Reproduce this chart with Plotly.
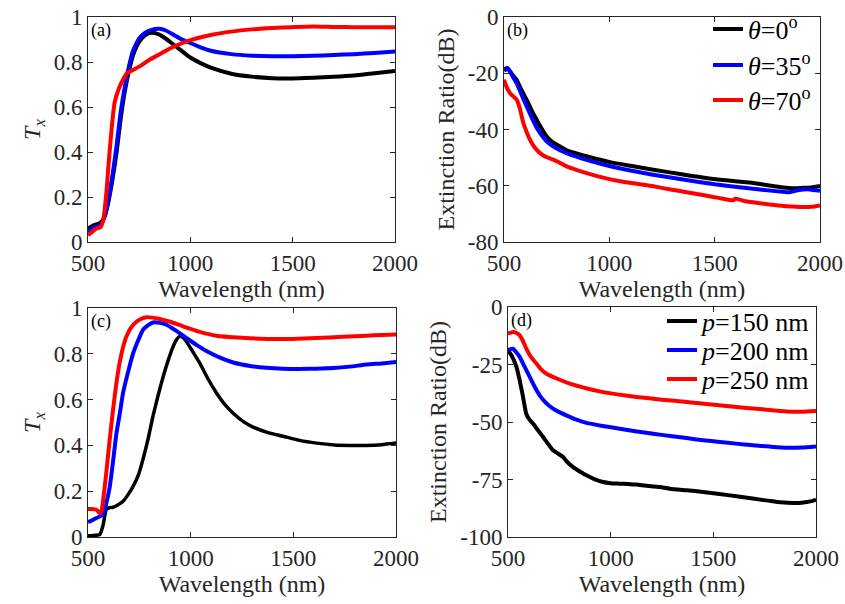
import plotly.graph_objects as go

W, H = 845, 604
FONT = "Liberation Serif"
AXC = "#262626"

# ---------------- Panel (a): Tx vs wavelength, theta ----------------
a_x_k = [500, 530, 560, 580, 600, 620, 640, 660, 680, 700, 720, 750, 780, 810, 840, 870, 900, 950, 1000,
         1050, 1100, 1200, 1300, 1400, 1500, 1600, 1700, 1800, 1900, 2000]
a_y_k = [0.06, 0.075, 0.085, 0.11, 0.18, 0.28, 0.40, 0.55, 0.67, 0.76, 0.83, 0.89, 0.92, 0.93, 0.925, 0.91,
         0.89, 0.855, 0.82, 0.795, 0.775, 0.748, 0.735, 0.728, 0.727, 0.73, 0.734, 0.74, 0.75, 0.76]

a_x_b = [500, 530, 560, 580, 600, 620, 640, 660, 680, 700, 720, 750, 780, 810, 850, 880, 920, 960, 1000,
         1050, 1100, 1200, 1300, 1400, 1500, 1600, 1700, 1800, 1900, 2000]
a_y_b = [0.045, 0.065, 0.075, 0.11, 0.19, 0.30, 0.43, 0.58, 0.69, 0.78, 0.85, 0.905, 0.93, 0.943, 0.948,
         0.94, 0.92, 0.90, 0.885, 0.865, 0.85, 0.835, 0.828, 0.826, 0.826, 0.828, 0.831, 0.835, 0.84, 0.847]

a_x_r = [500, 520, 540, 560, 575, 590, 600, 615, 630, 650, 670, 690, 720, 760, 800, 850, 900, 950, 1000,
         1100, 1200, 1300, 1400, 1500, 1600, 1700, 1800, 1900, 2000]
a_y_r = [0.03, 0.045, 0.06, 0.065, 0.10, 0.22, 0.34, 0.50, 0.62, 0.68, 0.72, 0.75, 0.765, 0.785, 0.81,
         0.835, 0.86, 0.88, 0.897, 0.92, 0.935, 0.945, 0.951, 0.955, 0.958, 0.956, 0.955, 0.955, 0.955]

# ---------------- Panel (b): extinction ratio vs wavelength, theta ----------------
b_x_k = [500, 516, 540, 560, 580, 607, 630, 655, 680, 702, 730, 766, 800, 892, 1003, 1100, 1209, 1350,
         1494, 1600, 1683, 1760, 1826, 1870, 1921, 1960, 2000]
b_y_k = [-18.7, -18.1, -20.5, -22.3, -25.5, -29.4, -33.0, -36.5, -39.8, -42.4, -44.5, -46.0, -47.5, -49.5,
         -51.6, -52.9, -54.3, -56.0, -57.6, -58.4, -59.0, -59.9, -60.6, -60.9, -60.7, -60.6, -60.1]

b_x_b = [500, 520, 540, 560, 580, 600, 630, 660, 700, 740, 800, 900, 1000, 1100, 1200, 1350, 1500, 1650,
         1800, 1850, 1900, 1950, 2000]
b_y_b = [-19.0, -18.5, -21.0, -23.5, -27.0, -30.5, -35.5, -40.0, -44.0, -46.3, -48.5, -51.0, -53.0, -54.6,
         -56.0, -57.8, -59.5, -60.8, -62.0, -62.3, -61.5, -61.3, -61.8]

b_x_r = [500, 510, 528, 545, 560, 575, 592, 608, 623, 645, 671, 700, 734, 765, 797, 850, 892, 970, 1051,
         1130, 1209, 1290, 1367, 1450, 1525, 1589, 1597, 1640, 1683, 1760, 1842, 1921, 1960, 2000]
b_y_r = [-22.3, -24.5, -27.0, -28.3, -29.4, -32.5, -37.7, -41.0, -43.6, -46.3, -48.4, -49.8, -50.7, -51.8,
         -53.1, -54.5, -55.5, -57.1, -58.4, -59.3, -60.2, -61.3, -62.3, -63.4, -64.4, -65.2, -64.6, -65.4,
         -65.9, -66.7, -67.3, -67.6, -67.5, -67.0]

# ---------------- Panel (c): Tx vs wavelength, period ----------------
c_x_k = [500, 530, 557, 573, 589, 605, 622, 645, 671, 695, 719, 745, 768, 793, 817, 842, 866, 890, 914,
         930, 947, 962, 979, 1010, 1044, 1085, 1125, 1165, 1207, 1255, 1304, 1380, 1450, 1530, 1613, 1700,
         1775, 1850, 1930, 2000]
c_y_k = [0.006, 0.007, 0.01, 0.05, 0.12, 0.128, 0.13, 0.14, 0.156, 0.185, 0.22, 0.27, 0.34, 0.43, 0.53,
         0.62, 0.70, 0.77, 0.83, 0.86, 0.876, 0.872, 0.854, 0.81, 0.76, 0.69, 0.63, 0.58, 0.54, 0.505, 0.48,
         0.455, 0.44, 0.422, 0.41, 0.402, 0.40, 0.40, 0.403, 0.41]

c_x_b = [500, 541, 573, 590, 606, 622, 638, 655, 671, 695, 719, 745, 768, 793, 817, 850, 882, 930, 979,
         1030, 1077, 1140, 1207, 1290, 1370, 1450, 1532, 1613, 1694, 1775, 1857, 1930, 2000]
c_y_b = [0.064, 0.083, 0.097, 0.15, 0.22, 0.33, 0.45, 0.54, 0.63, 0.72, 0.80, 0.86, 0.905, 0.925, 0.937,
         0.935, 0.927, 0.90, 0.869, 0.838, 0.812, 0.784, 0.762, 0.747, 0.739, 0.735, 0.734, 0.735, 0.738,
         0.744, 0.753, 0.758, 0.764]

c_x_r = [500, 520, 541, 557, 565, 575, 589, 605, 622, 638, 654, 671, 687, 710, 736, 760, 784, 815, 849,
         900, 963, 1040, 1125, 1250, 1370, 1490, 1613, 1740, 1857, 1930, 2000]
c_y_r = [0.122, 0.122, 0.119, 0.105, 0.112, 0.17, 0.28, 0.42, 0.556, 0.67, 0.76, 0.83, 0.876, 0.915,
         0.94, 0.953, 0.96, 0.958, 0.952, 0.94, 0.92, 0.897, 0.879, 0.87, 0.865, 0.865, 0.869, 0.874, 0.879,
         0.882, 0.884]

# ---------------- Panel (d): extinction ratio vs wavelength, period ----------------
d_x_k = [500, 520, 541, 557, 573, 589, 605, 622, 645, 671, 695, 719, 745, 768, 790, 817, 850, 882, 920,
         963, 1000, 1044, 1085, 1125, 1165, 1207, 1240, 1288, 1370, 1450, 1530, 1613, 1700, 1775, 1830, 1889,
         1930, 1954, 1980, 2000]
d_y_k = [-18.8, -21.5, -26.0, -31.9, -39.0, -46.4, -49.0, -50.7, -53.5, -56.5, -59.5, -62.3, -63.8, -65.2,
         -67.5, -69.6, -71.5, -73.2, -74.8, -76.1, -76.6, -76.8, -77.0, -77.2, -77.6, -78.0, -78.3, -79.0,
         -79.7, -80.4, -81.3, -82.3, -83.4, -84.3, -84.9, -85.2, -85.1, -84.8, -84.4, -83.8]

d_x_b = [500, 524, 540, 557, 580, 606, 630, 654, 685, 719, 750, 784, 830, 882, 960, 1044, 1120, 1207,
         1290, 1370, 1450, 1532, 1610, 1694, 1775, 1857, 1930, 2000]
d_y_b = [-18.8, -18.1, -19.7, -21.7, -25.8, -30.4, -34.7, -38.4, -41.7, -44.2, -45.7, -47.1, -48.9, -50.4,
         -51.7, -52.9, -54.0, -55.1, -56.1, -57.0, -57.9, -58.7, -59.4, -60.1, -60.7, -61.2, -61.1, -60.6]

d_x_r = [500, 524, 540, 557, 573, 589, 610, 638, 660, 687, 740, 801, 880, 963, 1040, 1125, 1250, 1370,
         1490, 1613, 1740, 1857, 1930, 2000]
d_y_r = [-11.6, -10.9, -11.2, -12.3, -14.8, -18.1, -21.5, -24.6, -27.0, -29.0, -31.2, -33.3, -35.3, -37.0,
         -38.1, -39.1, -40.3, -41.3, -42.4, -43.5, -44.5, -45.4, -45.5, -45.2]

theta_names = ["<i>θ</i>=0<sup>o</sup>", "<i>θ</i>=35<sup>o</sup>", "<i>θ</i>=70<sup>o</sup>"]
period_names = ["<i>p</i>=150 nm", "<i>p</i>=200 nm", "<i>p</i>=250 nm"]
colors = ["#000000", "#0000ff", "#ff0000"]
x_ticks = [500, 1000, 1500, 2000]
tx_ticks = [0, 0.2, 0.4, 0.6, 0.8, 1]
er_b_ticks = [0, -20, -40, -60, -80]
er_b_text = ["0", "-20", "-40", "-60", "-80"]
er_d_ticks = [0, -25, -50, -75, -100]
er_d_text = ["0", "-25", "-50", "-75", "-100"]

fig = go.Figure()


def px_x(p):
    return p / W


def px_y(p):
    return 1 - p / H


# plot areas in pixel coordinates (left, right, top, bottom)
boxes = {
    "1": (88, 395, 17, 242),
    "2": (504, 820, 17, 242),
    "3": (88, 396, 308, 537),
    "4": (508, 816, 307, 537),
}


def add(xs, ys, color, n, name=None, legend=None, width=4):
    xa = "x" if n == "1" else "x" + n
    ya = "y" if n == "1" else "y" + n
    fig.add_trace(go.Scatter(
        x=xs, y=ys, mode="lines", line=dict(color=color, width=width, shape="spline", smoothing=0.5),
        xaxis=xa, yaxis=ya, name=name or "", showlegend=legend is not None,
        legend=legend or "legend"))


add(a_x_k, a_y_k, colors[0], "1")
add(a_x_b, a_y_b, colors[1], "1")
add(a_x_r, a_y_r, colors[2], "1")

add(b_x_k, b_y_k, colors[0], "2", theta_names[0], "legend")
add(b_x_b, b_y_b, colors[1], "2", theta_names[1], "legend2")
add(b_x_r, b_y_r, colors[2], "2", theta_names[2], "legend3")

add(c_x_k, c_y_k, colors[0], "3", width=3.5)
add(c_x_b, c_y_b, colors[1], "3")
add(c_x_r, c_y_r, colors[2], "3")

add(d_x_k, d_y_k, colors[0], "4", period_names[0], "legend4")
add(d_x_b, d_y_b, colors[1], "4", period_names[1], "legend5")
add(d_x_r, d_y_r, colors[2], "4", period_names[2], "legend6")

axis_common = dict(showgrid=False, zeroline=False, showline=True, linecolor=AXC, linewidth=1,
                   mirror="ticks", ticks="inside", ticklen=5, tickcolor=AXC, tickwidth=1,
                   automargin=False,
                   tickfont=dict(family=FONT, size=23, color=AXC))

layout = dict(
    width=W, height=H, margin=dict(l=0, r=0, t=0, b=0, autoexpand=False),
    paper_bgcolor="white", plot_bgcolor="white",
    font=dict(family=FONT, color=AXC),
)

ylab = {
    "1": ("<i>T</i><sub><i>x</i></sub>", [0, 1], tx_ticks, None),
    "2": ("Extinction Ratio(dB)", [-80, 0], er_b_ticks, er_b_text),
    "3": ("<i>T</i><sub><i>x</i></sub>", [0, 1], tx_ticks, None),
    "4": ("Extinction Ratio(dB)", [-100, 0], er_d_ticks, er_d_text),
}

for n, (l, r, t, b) in boxes.items():
    xk = "xaxis" if n == "1" else "xaxis" + n
    yk = "yaxis" if n == "1" else "yaxis" + n
    ya = "y" if n == "1" else "y" + n
    xa = "x" if n == "1" else "x" + n
    layout[xk] = dict(axis_common, domain=[px_x(l), px_x(r)], range=[500, 2000], anchor=ya,
                      tickvals=x_ticks,
                      title=dict(text="Wavelength (nm)", font=dict(family=FONT, size=24, color=AXC),
                                 standoff=2))
    ttl, rng, tv, tt = ylab[n]
    ydict = dict(axis_common, domain=[px_y(b), px_y(t)], range=rng, anchor=xa, tickvals=tv,
                 title=dict(text=ttl, font=dict(family=FONT, size=24, color=AXC), standoff=6))
    if tt is not None:
        ydict["ticktext"] = tt
    layout[yk] = ydict

# one single-entry legend per line so that the entries sit as in the reference
legend_pos = {
    "legend": (708, 29, 26), "legend2": (708, 65, 26), "legend3": (708, 100, 26),
    "legend4": (662, 321, 26), "legend5": (662, 350, 26), "legend6": (662, 379, 26),
}
for key, (lx, ly, fs) in legend_pos.items():
    layout[key] = dict(x=px_x(lx), y=px_y(ly), xanchor="left", yanchor="middle",
                       bgcolor="rgba(0,0,0,0)", borderwidth=0,
                       font=dict(family=FONT, size=fs, color="#000000"), tracegroupgap=0)

fig.update_layout(**layout)

panel_tags = [("(a)", "1"), ("(b)", "2"), ("(c)", "3"), ("(d)", "4")]
for txt, n in panel_tags:
    l, r, t, b = boxes[n]
    fig.add_annotation(text=txt, xref="paper", yref="paper", x=px_x(l + 1), y=px_y(t + 1),
                       xanchor="left", yanchor="top", showarrow=False,
                       font=dict(family=FONT, size=18, color="#000000"))

fig.write_html("out.html", config={"displayModeBar": False},
               post_script="document.body.style.margin='0px';")
